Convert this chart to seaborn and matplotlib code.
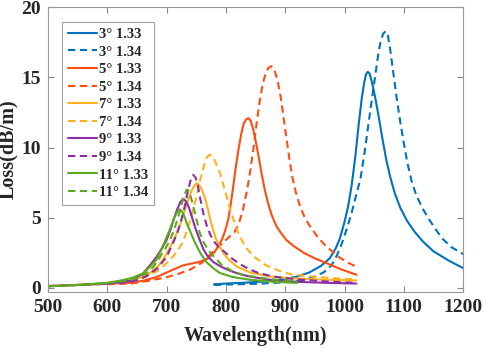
import numpy as np
import pandas as pd
import matplotlib
matplotlib.use("Agg")
import matplotlib.pyplot as plt
import seaborn as sns

# Loss spectra (wavelength in nm, loss in dB/m)
wl_3_133 = [780, 800, 820, 840, 860, 880, 900, 920, 940, 960, 975, 985, 992, 1000, 1006, 1012, 1018, 1024,
            1029, 1033, 1036, 1039, 1042, 1046, 1052, 1058, 1064, 1070, 1077, 1085, 1094, 1105, 1118, 1132,
            1150, 1175, 1200]
loss_3_133 = [0.25, 0.3, 0.34, 0.38, 0.44, 0.52, 0.63, 0.8, 1.08, 1.55, 2.1, 2.8, 3.5, 4.7, 5.8, 7.3, 9.3, 11.7,
              13.5, 14.6, 15.2, 15.4, 15.3, 14.7, 13.5, 12.1, 10.6, 9.2, 7.9, 6.7, 5.7, 4.8, 4.0, 3.3,
              2.6, 1.95, 1.4]

wl_3_134 = [780, 820, 860, 900, 930, 950, 965, 978, 987, 995, 1003, 1011, 1019, 1027, 1035, 1041, 1047, 1052,
            1057, 1061, 1065, 1069, 1073, 1077, 1082, 1088, 1094, 1100, 1106, 1113, 1121, 1131, 1142, 1153,
            1165, 1180, 1200]
loss_3_134 = [0.2, 0.25, 0.3, 0.4, 0.55, 0.8, 1.1, 1.6, 2.3, 3.1, 4.1, 5.2, 6.5, 7.8, 10.0, 11.9, 13.7, 15.2,
              16.7, 17.6, 18.1, 18.3, 18.0, 17.0, 15.4, 13.5, 11.8, 10.3, 8.9, 7.6, 6.6, 5.7, 4.9, 4.2,
              3.5, 2.9, 2.4]

wl_5_133 = [600, 640, 660, 683, 706, 728, 745, 756, 770, 780, 788, 794, 799, 804, 808, 812, 816, 821, 826,
            830, 834, 838, 842, 846, 850, 855, 860, 865, 870, 877, 885, 893, 902, 915, 933, 950, 970, 995, 1020]
loss_5_133 = [0.3, 0.35, 0.5, 0.76, 1.2, 1.6, 1.75, 1.85, 2.1, 2.5, 3.0, 3.5, 4.1, 4.9, 5.9, 7.1, 8.4, 9.8, 11.0,
              11.7, 12.0, 12.1, 11.9, 11.3, 10.5, 9.4, 8.2, 7.1, 6.2, 5.2, 4.4, 3.9, 3.4, 2.95, 2.45, 2.1,
              1.75, 1.3, 0.93]

wl_5_134 = [600, 640, 670, 700, 720, 740, 760, 779, 800, 815, 822, 829, 835, 841, 847, 852, 857, 862, 867,
            872, 877, 882, 887, 892, 897, 902, 907, 912, 918, 925, 932, 940, 955, 968, 990, 1005, 1020]
loss_5_134 = [0.25, 0.3, 0.5, 0.75, 1.0, 1.3, 1.8, 2.6, 3.4, 4.0, 4.6, 5.6, 6.8, 8.3, 10.1, 11.8, 13.3, 14.5,
              15.3, 15.7, 15.8, 15.5, 14.8, 13.7, 12.2, 10.7, 9.2, 7.9, 6.8, 5.8, 5.1, 4.5, 3.6, 3.0, 2.2,
              1.8, 1.5]

wl_7_133 = [500, 550, 600, 630, 655, 670, 685, 697, 706, 714, 722, 729, 736, 742, 747, 751, 755, 760, 764,
            768, 773, 778, 784, 790, 797, 805, 818, 840, 874, 920, 970, 1020]
loss_7_133 = [0.12, 0.2, 0.3, 0.45, 0.7, 1.0, 1.5, 2.2, 2.9, 3.6, 4.4, 5.3, 6.2, 6.9, 7.3, 7.46, 7.35, 6.95,
              6.5, 5.9, 5.0, 4.2, 3.4, 2.9, 2.4, 2.0, 1.52, 1.1, 0.8, 0.65, 0.57, 0.52]

wl_7_134 = [500, 550, 600, 640, 666, 689, 706, 718, 728, 737, 745, 752, 758, 763, 768, 773, 778, 783, 790,
            798, 807, 815, 821, 832, 848, 866, 890, 911, 950, 990, 1020]
loss_7_134 = [0.12, 0.2, 0.28, 0.4, 0.8, 1.3, 2.0, 2.6, 3.3, 4.4, 5.6, 6.8, 7.9, 8.7, 9.3, 9.5, 9.35, 8.9, 8.2,
              7.0, 5.6, 4.6, 3.9, 2.94, 2.2, 1.64, 1.2, 0.95, 0.78, 0.66, 0.6]

wl_9_133 = [500, 550, 600, 640, 660, 672, 683, 692, 700, 707, 713, 718, 723, 728, 733, 738, 743, 749, 756,
            762, 770, 780, 792, 805, 820, 840, 874, 920, 970, 1020]
loss_9_133 = [0.12, 0.2, 0.3, 0.5, 1.0, 1.6, 2.2, 2.8, 3.4, 4.2, 5.0, 5.6, 6.1, 6.35, 6.15, 5.7, 5.0, 4.2, 3.4,
              2.75, 2.2, 1.8, 1.5, 1.25, 1.02, 0.8, 0.57, 0.42, 0.35, 0.3]

wl_9_134 = [500, 550, 600, 640, 665, 685, 700, 711, 718, 724, 730, 735, 740, 745, 749, 753, 757, 762, 768,
            774, 780, 788, 798, 810, 821, 838, 855, 880, 920, 970, 1020]
loss_9_134 = [0.12, 0.2, 0.28, 0.4, 0.8, 1.4, 2.2, 3.2, 3.9, 4.7, 5.7, 6.7, 7.6, 8.05, 7.85, 7.2, 6.3, 5.3, 4.4,
              3.75, 3.3, 2.9, 2.55, 2.1, 1.76, 1.35, 1.05, 0.8, 0.6, 0.45, 0.35]

wl_11_133 = [500, 550, 600, 627, 645, 661, 672, 683, 692, 700, 707, 713, 718, 722, 726, 730, 734, 741, 748,
             758, 768, 780, 790, 810, 840, 880, 920]
loss_11_133 = [0.1, 0.2, 0.35, 0.55, 0.75, 1.05, 1.5, 2.0, 2.8, 3.6, 4.3, 5.0, 5.4, 5.6, 5.45, 5.1, 4.6, 3.9,
               3.2, 2.4, 1.8, 1.35, 1.05, 0.78, 0.57, 0.42, 0.35]

wl_11_134 = [500, 550, 600, 640, 665, 678, 689, 698, 706, 714, 720, 725, 730, 734, 738, 742, 748, 756, 763,
             770, 782, 793, 810, 827, 860, 890, 920]
loss_11_134 = [0.1, 0.2, 0.33, 0.55, 1.0, 1.5, 2.2, 2.8, 3.4, 4.3, 5.1, 5.9, 6.6, 7.0, 6.9, 6.3, 5.3, 3.9, 3.2,
               2.7, 2.1, 1.64, 1.2, 0.93, 0.7, 0.55, 0.48]

series = [
    ("3° 1.33", wl_3_133, loss_3_133, "#0072BD", "-"),
    ("3° 1.34", wl_3_134, loss_3_134, "#0072BD", "--"),
    ("5° 1.33", wl_5_133, loss_5_133, "#FF4D12", "-"),
    ("5° 1.34", wl_5_134, loss_5_134, "#FF4D12", "--"),
    ("7° 1.33", wl_7_133, loss_7_133, "#FFB11B", "-"),
    ("7° 1.34", wl_7_134, loss_7_134, "#FFB11B", "--"),
    ("9° 1.33", wl_9_133, loss_9_133, "#8E2DA6", "-"),
    ("9° 1.34", wl_9_134, loss_9_134, "#8E2DA6", "--"),
    ("11° 1.33", wl_11_133, loss_11_133, "#5BAA1F", "-"),
    ("11° 1.34", wl_11_134, loss_11_134, "#5BAA1F", "--"),
]

sns.set_style("ticks")
plt.rcParams['font.family'] = ['Liberation Serif', 'DejaVu Serif']
plt.rcParams['font.weight'] = 'bold'

fig = plt.figure(figsize=(4.84, 3.48), dpi=100)
ax = fig.add_axes([0.099, 0.161, 0.858, 0.818])

for label, wl, loss, color, ls in series:
    sns.lineplot(x=wl, y=loss, ax=ax, color=color, linewidth=1.5, label=label,
                 estimator=None, sort=False)
    if ls == "--":
        ax.lines[-1].set_dashes((3.5, 2.2))

ax.set_xlim(500, 1200)
ax.set_ylim(-0.3, 20)
ax.set_xticks(np.arange(500, 1201, 100))
ax.set_yticks(np.arange(0, 21, 5))
ax.tick_params(direction='in', top=True, right=True, length=4, width=0.8, color='#888888',
               labelsize=14, pad=5)
for lab in ax.get_xticklabels() + ax.get_yticklabels():
    lab.set_fontweight('bold')
for sp in ax.spines.values():
    sp.set_color('#999999')
    sp.set_linewidth(0.8)

ax.set_xlabel("Wavelength(nm)", fontsize=14.5, fontweight='bold', labelpad=7)
ax.set_ylabel("Loss(dB/m)", fontsize=14.5, fontweight='bold', labelpad=2)

leg = ax.legend(loc='upper left', prop={'weight': 'bold', 'size': 10.5}, handlelength=2.0,
                handletextpad=0.1, labelspacing=0.3, borderaxespad=1.0, frameon=True,
                fancybox=False, borderpad=0.4)
leg.get_frame().set_edgecolor('#888888')
leg.get_frame().set_linewidth(0.8)

fig.savefig("out.png", dpi=100)
